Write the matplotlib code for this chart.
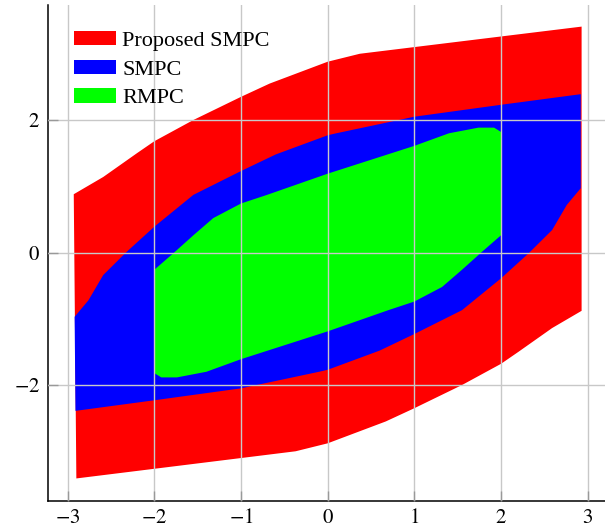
import matplotlib.pyplot as plt
from matplotlib.patches import Patch

plt.rcParams['font.family'] = ['Liberation Serif', 'DejaVu Serif']
plt.rcParams['mathtext.fontset'] = 'stix'

# region boundaries (x, y), traced clockwise-ish
red_x = [-2.93, -2.59, -2.2, -2.0, -1.55, -1.0, -0.67, 0.0, 0.37, 2.93,
         2.93, 2.59, 2.2, 2.0, 1.55, 1.0, 0.67, 0.0, -0.37, -2.90]
red_y = [0.88, 1.14, 1.50, 1.68, 2.0, 2.35, 2.55, 2.88, 3.0, 3.41,
         -0.88, -1.14, -1.50, -1.68, -2.0, -2.35, -2.55, -2.88, -3.0, -3.41]

blue_x = [-2.92, -2.76, -2.59, -2.32, -2.0, -1.55, -1.0, -0.6, 0.0, 0.1, 1.0, 2.0, 2.92,
          2.92, 2.76, 2.59, 2.32, 2.0, 1.55, 1.0, 0.6, 0.0, -0.1, -1.0, -2.0, -2.91]
blue_y = [-0.97, -0.72, -0.34, 0.01, 0.39, 0.87, 1.23, 1.48, 1.77, 1.80, 2.05, 2.23, 2.39,
          0.97, 0.72, 0.34, -0.01, -0.39, -0.87, -1.23, -1.48, -1.77, -1.80, -2.05, -2.23, -2.39]

green_x = [-2.0, -1.78, -1.55, -1.32, -1.0, -0.7, 0.0, 1.0, 1.4, 1.74, 1.92, 2.0,
           2.0, 1.78, 1.55, 1.32, 1.0, 0.7, 0.0, -1.0, -1.4, -1.74, -1.92, -2.0]
green_y = [-0.26, -0.01, 0.26, 0.52, 0.74, 0.87, 1.19, 1.61, 1.80, 1.885, 1.885, 1.82,
           0.26, 0.01, -0.26, -0.52, -0.74, -0.87, -1.19, -1.61, -1.80, -1.885, -1.885, -1.82]

xticks = [-3, -2, -1, 0, 1, 2, 3]
yticks = [-2, 0, 2]
labels = ['Proposed SMPC', 'SMPC', 'RMPC']
colors = ['#ff0000', '#0000ff', '#00ff00']

fig = plt.figure(figsize=(6.05, 5.27), dpi=100)
ax = fig.add_axes([0.0798, 0.0499, 0.9202, 0.9406])

ax.fill(red_x, red_y, color=colors[0], lw=0)
ax.fill(blue_x, blue_y, color=colors[1], lw=0)
ax.fill(green_x, green_y, color=colors[2], lw=0)

ax.set_xlim(-3.224, 3.2)
ax.set_ylim(-3.746, 3.736)
ax.set_xticks(xticks)
ax.set_xticklabels([f'${t}$' for t in xticks])
ax.set_yticks(yticks)
ax.set_yticklabels([f'${t}$' for t in yticks])

ax.set_axisbelow(False)
ax.grid(True, color='#c8c8c8', lw=1.0)
ax.tick_params(direction='in', length=7, width=1, color='#999999',
               labelsize=15, pad=6)
ax.spines['top'].set_visible(False)
ax.spines['right'].set_visible(False)
ax.spines['left'].set_linewidth(1.1)
ax.spines['bottom'].set_linewidth(1.1)

handles = [Patch(color=c, lw=0) for c in colors]
ax.legend(handles, labels, loc='upper left', bbox_to_anchor=(0.046, 0.948),
          frameon=False, fontsize=16, borderpad=0, borderaxespad=0,
          handlelength=1.88, handleheight=0.63, handletextpad=0.3, labelspacing=0.39)

fig.savefig('out.png', dpi=100)
